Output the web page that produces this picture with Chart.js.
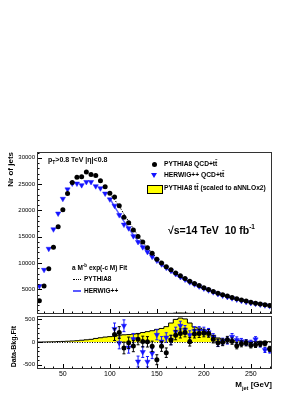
<!DOCTYPE html>
<html>
<head>
<meta charset="utf-8">
<script src="https://cdn.jsdelivr.net/npm/chart.js@4.4.1/dist/chart.umd.min.js"></script>
<style>
  body { margin: 0; background: #fff; width: 306px; height: 396px; position: relative; overflow: hidden;
         font-family: "Liberation Sans", Arial, sans-serif; }
  canvas { position: absolute; left: 0; top: 0; }
  .t { position: absolute; white-space: nowrap; color: #000; font-weight: bold; line-height: 1; }
  .rot { transform-origin: 0 0; transform: rotate(-90deg) translate(-100%, -50%); }
</style>
</head>
<body>
<canvas id="upper" width="306" height="396"></canvas>
<canvas id="lower" width="306" height="396"></canvas>

<div class="t rot" style="left:11px; top:152px; font-size:8px;">Nr of jets</div>
<div class="t rot" style="left:13px; top:326px; font-size:7px;">Data-Bkg.Fit</div>
<div class="t" style="right:34px; top:381px; font-size:8px;">M<sub style="font-size:5.5px">jet</sub> [GeV]</div>

<div class="t" style="left:48px; top:156px; font-size:7px;">p<sub style="font-size:5px">T</sub>&gt;0.8 TeV |&eta;|&lt;0.8</div>

<!-- legend -->
<div style="position:absolute; left:152px; top:162px; width:5px; height:5px; border-radius:50%; background:#000;"></div>
<div class="t" style="left:164px; top:161px; font-size:6.7px;">PYTHIA8 QCD+tt&#x0304;</div>
<div style="position:absolute; left:151px; top:173px; width:0; height:0; border-left:3px solid transparent; border-right:3px solid transparent; border-top:5px solid #1414ff;"></div>
<div class="t" style="left:164px; top:172px; font-size:6.7px;">HERWIG++ QCD+tt&#x0304;</div>
<div style="position:absolute; left:147px; top:185px; width:14px; height:7px; background:#ffff00; border:1px solid #000;"></div>
<div class="t" style="left:164px; top:185px; font-size:6.7px;">PYTHIA8 tt&#x0304; (scaled to aNNLOx2)</div>

<div class="t" style="left:168px; top:224px; font-size:10.5px;">&radic;s=14 TeV &nbsp;10 fb<sup style="font-size:6.5px">-1</sup></div>

<!-- fit legend -->
<div class="t" style="left:72px; top:264px; font-size:6.5px;">a M<sup style="font-size:4.5px">-b</sup> exp(-c M) Fit</div>
<div style="position:absolute; left:73px; top:279px; width:8px; border-top:1px dotted #000;"></div>
<div class="t" style="left:84px; top:276px; font-size:6.5px;">PYTHIA8</div>
<div style="position:absolute; left:73px; top:290px; width:8px; border-top:2px solid #5a5aff;"></div>
<div class="t" style="left:84px; top:288px; font-size:6.5px;">HERWIG++</div>

<script>
// bin centres [GeV]
const mass = [25, 30, 35, 40, 45, 50, 55, 60, 65, 70, 75, 80, 85, 90, 95, 100, 105, 110, 115, 120,
              125, 130, 135, 140, 145, 150, 155, 160, 165, 170, 175, 180, 185, 190, 195, 200, 205, 210, 215, 220,
              225, 230, 235, 240, 245, 250, 255, 260, 265, 270];
const pythia = [2800, 5600, 8900, 13000, 16900, 20100, 23200, 25300, 26300, 26400, 27300, 26800, 26650, 25650, 24500, 23250, 22550, 20900, 18700, 17650,
                16250, 15050, 14000, 12900, 11850, 10700, 10000, 9300, 8700, 8100, 7550, 7050, 6550, 6100, 5700, 5300, 4950, 4600, 4250, 3950,
                3700, 3450, 3200, 2950, 2750, 2550, 2350, 2200, 2050, 1900];
const herwig = [5600, 8700, 12700, 16400, 19400, 22200, 24000, 25100, 25100, 24800, 25400, 25400, 24600, 24200, 23200, 22100, 20900, 19100, 17300, 16600,
                15100, 14000, 13000, 12100, 11200, 10450, 9750, 9100, 8500, 7900, 7350, 6850, 6350, 5950, 5550, 5150, 4800, 4450, 4100, 3800,
                3550, 3300, 3050, 2800, 2600, 2400, 2250, 2100, 1950, 1800];
const ttbar = [0, 2, 4, 6, 10, 14, 18, 24, 30, 40, 50, 60, 80, 95, 110, 120, 130, 150, 160, 165,
               175, 190, 210, 230, 250, 280, 300, 340, 420, 500, 530, 510, 420, 330, 310, 260, 200, 150, 90, 60,
               45, 35, 30, 25, 20, 18, 15, 12, 10, 8];

// fits a M^-b exp(-c M)
const fitMass = [100, 105, 110, 115, 120, 125, 130, 135, 140, 145, 150, 155, 160, 165, 170, 175, 180, 185,
                 190, 195, 200, 205, 210, 215, 220, 225, 230, 235, 240, 245, 250, 255, 260, 265, 270];
const pythiaFit = [23100, 22000, 20800, 19300, 17900, 16550, 15200, 14000, 12900, 11900, 11000, 10150, 9400, 8700, 8050, 7450, 6900, 6400,
                   5950, 5520, 5130, 4770, 4430, 4120, 3830, 3560, 3310, 3080, 2870, 2670, 2490, 2320, 2160, 2010, 1880];
const herwigFit = [22300, 20700, 19300, 17900, 16600, 15350, 14200, 13150, 12200, 11300, 10450, 9700, 9000, 8350, 7750, 7200, 6700, 6230,
                   5800, 5400, 5030, 4690, 4370, 4070, 3800, 3540, 3300, 3080, 2870, 2680, 2500, 2330, 2180, 2030, 1900];

// residuals data - bkg fit
const resMass = [105, 110, 115, 120, 125, 130, 135, 140, 145, 150, 155, 160, 165, 170, 175, 180, 185,
                 190, 195, 200, 205, 210, 215, 220, 225, 230, 235, 240, 245, 250, 255, 260, 265, 270];
const pythiaRes = [165, 210, -130, -15, -88, 59, 10, 5, -95, -390, -95, -235, 44, 150, 190, 210, 7,
                   180, 191, 200, 191, 60, -15, -5, 50, 20, -80, -40, -20, -70, -60, -40, -30, -150];
const pythiaErr = [130, 130, 130, 125, 125, 120, 120, 115, 115, 110, 110, 105, 105, 100, 100, 95, 95,
                   90, 90, 85, 85, 80, 80, 75, 75, 70, 70, 65, 65, 60, 60, 60, 55, 55];
const herwigRes = [290, -20, 360, -120, 65, -430, -220, -434, -250, 160, 10, 100, 44, 228, 360, 270, 154,
                   250, 250, 243, 215, 105, -20, 10, 30, 118, 44, 15, -10, -20, 59, -50, -176, -185];
const herwigErr = [130, 130, 130, 125, 125, 120, 120, 115, 115, 110, 110, 105, 105, 100, 100, 95, 95,
                   90, 90, 85, 85, 80, 80, 75, 75, 70, 70, 65, 65, 60, 60, 60, 55, 55];

const xTicks = [50, 100, 150, 200, 250];
const yTicksUpper = [5000, 10000, 15000, 20000, 25000, 30000];
const yTicksLower = [-500, 0, 500];

const FONT = 'Liberation Sans';

// ROOT-like frame: inward ticks, frame box, error bars, zero line
const rootFrame = {
  id: 'rootFrame',
  beforeDatasetDraw(chart, args) {
    const ds = chart.data.datasets[args.index];
    if (!ds.err) return;
    const ctx = chart.ctx, ys = chart.scales.y;
    ctx.save();
    ctx.strokeStyle = ds.errColor;
    ctx.lineWidth = 1;
    ctx.beginPath();
    args.meta.data.forEach((pt, j) => {
      const v = ds.data[j].y, e = ds.err[j];
      const y1 = ys.getPixelForValue(v + e), y2 = ys.getPixelForValue(v - e);
      ctx.moveTo(pt.x, y1); ctx.lineTo(pt.x, y2);
      ctx.moveTo(pt.x - 1.5, y1); ctx.lineTo(pt.x + 1.5, y1);
      ctx.moveTo(pt.x - 1.5, y2); ctx.lineTo(pt.x + 1.5, y2);
    });
    ctx.stroke();
    ctx.restore();
  },
  afterDraw(chart, args, o) {
    const {ctx, chartArea: a} = chart;
    const xs = chart.scales.x, ys = chart.scales.y;
    ctx.save();
    if (o.zero) {
      const py = Math.round(ys.getPixelForValue(0)) + 0.5;
      ctx.strokeStyle = '#000';
      ctx.setLineDash([1, 1.5]);
      ctx.beginPath(); ctx.moveTo(a.left, py); ctx.lineTo(a.right, py); ctx.stroke();
      ctx.setLineDash([]);
    }
    ctx.strokeStyle = '#000';
    ctx.lineWidth = 1;
    ctx.beginPath();
    for (let v = 30; v <= 270; v += 10) {
      const px = Math.round(xs.getPixelForValue(v)) + 0.5;
      const len = v % 50 === 0 ? 5 : 2.5;
      ctx.moveTo(px, a.bottom); ctx.lineTo(px, a.bottom - len);
    }
    for (let v = o.yFrom; v <= ys.max; v += o.yStep) {
      const py = Math.round(ys.getPixelForValue(v)) + 0.5;
      const len = v % o.yMajor === 0 ? 5 : 2.5;
      ctx.moveTo(a.left, py); ctx.lineTo(a.left + len, py);
    }
    ctx.stroke();
    ctx.strokeStyle = '#333';
    ctx.strokeRect(a.left + 0.5, a.top + 0.5, a.width - 1, a.height - 1);
    ctx.restore();
  }
};

const pts = (xs, ys) => xs.map((x, i) => ({x: x, y: ys[i]}));
const hist = vals => {
  const d = mass.map((m, i) => ({x: m - 2.5, y: vals[i]}));
  d.push({x: mass[mass.length - 1] + 2.5, y: vals[vals.length - 1]});
  return d;
};

const yAxis = (min, max, ticks) => ({
  type: 'linear', min: min, max: max,
  afterFit(s) { s.width = 37; },
  afterBuildTicks(s) { s.ticks = ticks.map(v => ({value: v})); },
  ticks: { color: '#000', padding: 2, font: {family: FONT, size: 6}, callback: v => String(v) },
  grid: { display: false, drawTicks: false },
  border: { display: false }
});

new Chart(document.getElementById('upper'), {
  type: 'scatter',
  data: {
    datasets: [
      { data: pts(mass, pythia), pointStyle: 'circle', pointRadius: 2.5, backgroundColor: '#000', borderWidth: 0, order: 1 },
      { data: pts(mass, herwig), pointStyle: 'triangle', rotation: 180, pointRadius: 3, backgroundColor: '#1414ff', borderColor: '#1414ff', borderWidth: 0.5, order: 2 },
      { data: pts(fitMass, pythiaFit), showLine: true, pointRadius: 0, borderColor: '#000', borderWidth: 1, borderDash: [1.5, 1.5], cubicInterpolationMode: 'monotone', order: 0 },
      { data: pts(fitMass, herwigFit), showLine: true, pointRadius: 0, borderColor: '#5a5aff', borderWidth: 1.5, cubicInterpolationMode: 'monotone', order: 3 },
      { data: hist(ttbar), showLine: true, stepped: true, pointRadius: 0, borderColor: '#555', borderWidth: 1, backgroundColor: '#ffff00', fill: 'origin', order: 4 }
    ]
  },
  options: {
    responsive: false, animation: false, devicePixelRatio: 1,
    layout: { padding: {top: 152, left: 0, right: 34, bottom: 82} },
    plugins: { legend: {display: false}, tooltip: {enabled: false},
               rootFrame: { yFrom: 1000, yStep: 1000, yMajor: 5000 } },
    scales: {
      x: { type: 'linear', min: 22.5, max: 272.5, display: false },
      y: yAxis(300, 31100, yTicksUpper)
    }
  },
  plugins: [rootFrame]
});

new Chart(document.getElementById('lower'), {
  type: 'scatter',
  data: {
    datasets: [
      { data: pts(resMass, pythiaRes), err: pythiaErr, errColor: '#000', pointStyle: 'circle', pointRadius: 2.5, backgroundColor: '#000', borderWidth: 0, order: 1 },
      { data: pts(resMass, herwigRes), err: herwigErr, errColor: '#1414ff', pointStyle: 'triangle', rotation: 180, pointRadius: 3, backgroundColor: '#1414ff', borderColor: '#1414ff', borderWidth: 0.5, order: 2 },
      { data: hist(ttbar), showLine: true, stepped: true, pointRadius: 0, borderColor: '#000', borderWidth: 1, backgroundColor: '#ffff00', fill: 'origin', order: 4 }
    ]
  },
  options: {
    responsive: false, animation: false, devicePixelRatio: 1,
    layout: { padding: {top: 316, left: 0, right: 34, bottom: 15} },
    plugins: { legend: {display: false}, tooltip: {enabled: false},
               rootFrame: { zero: true, yFrom: -500, yStep: 100, yMajor: 500 } },
    scales: {
      x: {
        type: 'linear', min: 22.5, max: 272.5, position: 'bottom',
        afterFit(s) { s.height = 12; },
        afterBuildTicks(s) { s.ticks = xTicks.map(v => ({value: v})); },
        ticks: { color: '#000', padding: 1, maxRotation: 0, autoSkip: false, font: {family: FONT, size: 7}, callback: v => String(v) },
        grid: { display: false, drawTicks: false },
        border: { display: false }
      },
      y: yAxis(-595, 575, yTicksLower)
    }
  },
  plugins: [rootFrame]
});
</script>
</body>
</html>
